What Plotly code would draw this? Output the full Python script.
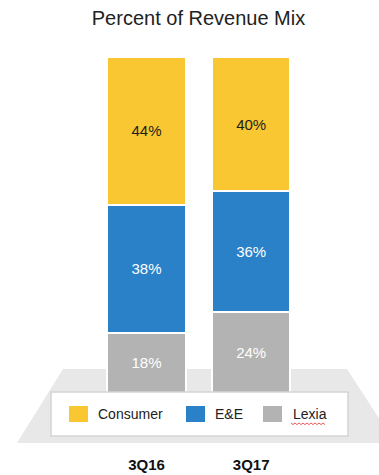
import plotly.graph_objects as go

# ---- data ----
categories = ["3Q16", "3Q17"]
series_names = ["Lexia", "E&E", "Consumer"]  # stacking order bottom -> top
lexia = [18, 24]
ee = [38, 36]
consumer = [44, 40]
series_values = [lexia, ee, consumer]
legend_order = ["Consumer", "E&E", "Lexia"]
title_text = "Percent of Revenue Mix"

# ---- styles ----
colors = {"Consumer": "#F9C731", "E&E": "#2A81C8", "Lexia": "#B3B3B3"}
text_colors = {"Consumer": "#1E1E1E", "E&E": "#FFFFFF", "Lexia": "#FFFFFF"}
FONT = "Liberation Sans, Arial, sans-serif"

W, H = 379, 475
M_T, M_B = 57, 82
PLOT_H = H - M_T - M_B


def px(x):
    return x / W


def py(y):
    return (H - M_B - y) / PLOT_H


fig = go.Figure()
for name, vals in zip(series_names, series_values):
    fig.add_trace(go.Bar(
        x=categories, y=vals, name=name,
        marker=dict(color=colors[name], line=dict(color="white", width=2)),
        width=0.75,
        texttemplate="%{y}%", textposition="inside", insidetextanchor="middle",
        textfont=dict(family=FONT, size=15, color=text_colors[name]),
        showlegend=False,
    ))

shapes = []
# floor trapezoid behind bars
pts = [(63, 369), (347, 369), (395, 443), (17, 443)]
path = "M " + " L ".join(f"{px(a):.5f},{py(b):.5f}" for a, b in pts) + " Z"
shapes.append(dict(type="path", path=path, xref="paper", yref="paper",
                   fillcolor="#E8E8E8", line=dict(width=0), layer="below"))
# legend box
shapes.append(dict(type="rect", xref="paper", yref="paper",
                   x0=px(51), x1=px(348), y0=py(436), y1=py(392),
                   fillcolor="white", line=dict(color="#D4D4D4", width=1.5),
                   layer="above"))
annotations = []
sq_x = [69, 186, 263]
tx_x = [96, 213, 291]
for name, sx, tx in zip(legend_order, sq_x, tx_x):
    shapes.append(dict(type="rect", xref="paper", yref="paper",
                       x0=px(sx), x1=px(sx + 19), y0=py(422), y1=py(406),
                       fillcolor=colors[name], line=dict(width=0), layer="above"))
    annotations.append(dict(text=name, xref="paper", yref="paper",
                            x=px(tx), y=py(414), xanchor="left", yanchor="middle",
                            showarrow=False,
                            font=dict(family=FONT, size=14, color="#222222")))
# spell-check squiggle under "Lexia"
zz = [(291 + 2 * i, 423 if i % 2 == 0 else 424.6) for i in range(18)]
zpath = "M " + " L ".join(f"{px(a):.5f},{py(b):.5f}" for a, b in zz)
shapes.append(dict(type="path", path=zpath, xref="paper", yref="paper",
                   line=dict(color="#E03030", width=0.8), layer="above"))

fig.update_layout(
    width=W, height=H,
    margin=dict(l=0, r=0, t=M_T, b=M_B, pad=0),
    barmode="stack",
    paper_bgcolor="white", plot_bgcolor="rgba(0,0,0,0)",
    title=dict(text=title_text, x=198.5 / W, xanchor="center",
               y=1 - 18 / H, yanchor="middle",
               font=dict(family=FONT, size=20, color="#222222")),
    xaxis=dict(range=[-1.399, 2.2206], showgrid=False, zeroline=False,
               showline=False, ticks="",
               tickfont=dict(family=FONT, size=15, color="#111111", weight="bold"),
               ticklabelstandoff=61),
    yaxis=dict(range=[0, 100], visible=False),
    shapes=shapes, annotations=annotations,
    showlegend=False,
)

fig.write_html("out.html")
